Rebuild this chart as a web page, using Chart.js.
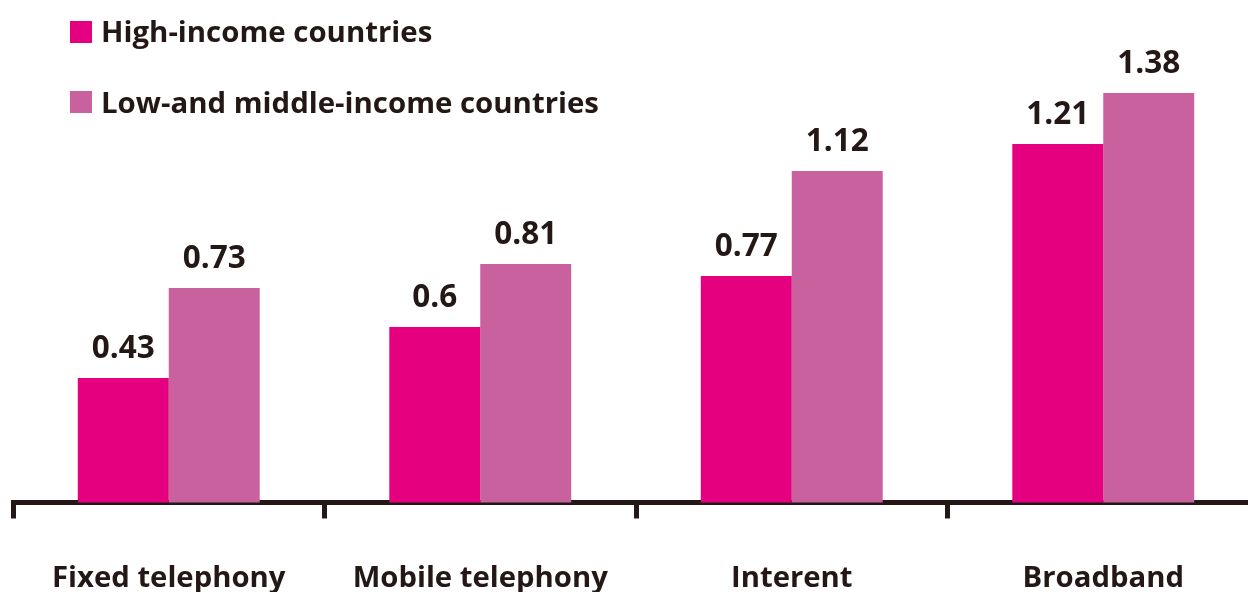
<!DOCTYPE html>
<html>
<head>
<meta charset="utf-8">
<script src="https://cdn.jsdelivr.net/npm/chart.js@4.4.1/dist/chart.umd.min.js"></script>
<style>
html,body{margin:0;padding:0;background:#fff;overflow:hidden;width:1248px;height:592px;}
#wrap{position:absolute;left:0;top:0;width:1260px;height:600px;}
#legend{position:absolute;left:70px;top:0;font-family:"Open Sans",sans-serif;font-weight:700;font-size:29.4px;line-height:28px;color:#231815;}
.sw{position:absolute;left:0;width:22px;height:22px;}
.lbl{position:absolute;left:31px;white-space:nowrap;}
</style>
</head>
<body>
<div id="wrap"><canvas id="c" width="1260" height="600"></canvas></div>
<div id="legend"></div>
<script>
const categories = ["Fixed telephony", "Mobile telephony", "Interent", "Broadband"];
const seriesNames = ["High-income countries", "Low-and middle-income countries"];
const highIncome = [0.43, 0.6, 0.77, 1.21];
const lowMiddleIncome = [0.73, 0.81, 1.12, 1.38];
const seriesColors = ["#E4007F", "#C9619E"];
const textColor = "#231815";

// HTML legend built from series names
const legend = document.getElementById('legend');
seriesNames.forEach((name, i) => {
  const sw = document.createElement('div');
  sw.className = 'sw';
  sw.style.top = (21 + i * 70) + 'px';
  sw.style.background = seriesColors[i];
  const lb = document.createElement('div');
  lb.className = 'lbl';
  lb.style.top = (17 + i * 71) + 'px';
  lb.textContent = name;
  legend.appendChild(sw);
  legend.appendChild(lb);
});

const valueLabels = {
  id: 'valueLabels',
  afterDatasetsDraw(chart) {
    const ctx = chart.ctx;
    ctx.save();
    ctx.font = 'bold 31.5px "Open Sans"';
    ctx.fillStyle = textColor;
    ctx.textAlign = 'center';
    ctx.textBaseline = 'alphabetic';
    chart.data.datasets.forEach((ds, i) => {
      chart.getDatasetMeta(i).data.forEach((bar, j) => {
        ctx.fillText(String(ds.data[j]), bar.x, bar.y - 20);
      });
    });
    ctx.restore();
  }
};

new Chart(document.getElementById('c'), {
  type: 'bar',
  data: {
    labels: categories,
    datasets: [
      { label: seriesNames[0], data: highIncome, backgroundColor: seriesColors[0], borderWidth: 0 },
      { label: seriesNames[1], data: lowMiddleIncome, backgroundColor: seriesColors[1], borderWidth: 0 }
    ]
  },
  options: {
    responsive: false,
    animation: false,
    events: [],
    layout: { padding: { top: 27, left: 13, right: 1, bottom: 0 } },
    datasets: { bar: { categoryPercentage: 0.584, barPercentage: 1.0 } },
    plugins: { legend: { display: false }, tooltip: { enabled: false } },
    scales: {
      x: {
        z: 1,
        offset: true,
        grid: { display: true, offset: true, drawOnChartArea: false, drawTicks: true, tickLength: 16, tickWidth: 5, tickColor: textColor, color: textColor },
        border: { display: true, width: 5, color: textColor },
        ticks: { color: textColor, font: { family: '"Open Sans"', weight: 'bold', size: 29.3 }, padding: 43, maxRotation: 0, autoSkip: false },
        afterFit(scale) { scale.height = 97.5; }
      },
      y: { display: false, min: 0.015, max: 1.6 }
    }
  },
  plugins: [valueLabels]
});
</script>
</body>
</html>
